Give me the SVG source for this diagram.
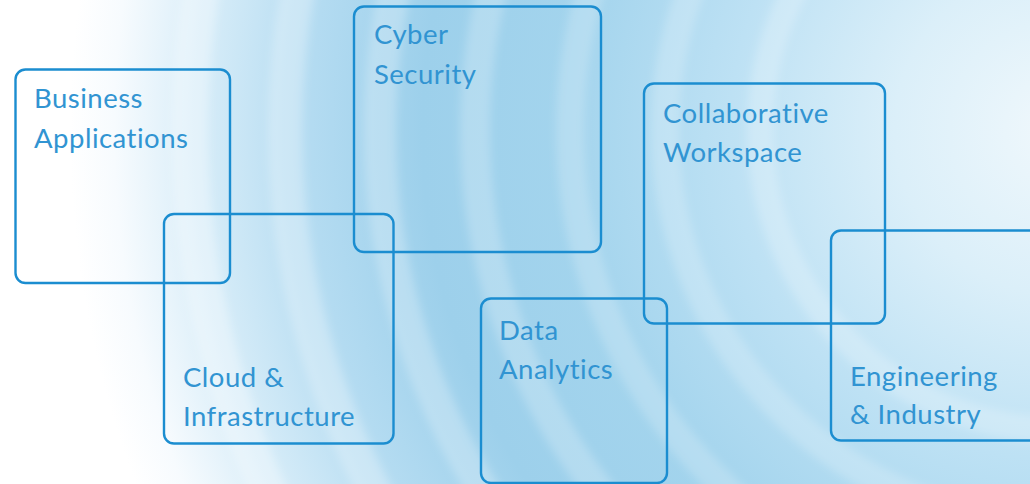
<svg xmlns="http://www.w3.org/2000/svg" width="1030" height="484" viewBox="0 0 1030 484">
  <defs>
    <radialGradient id="base" cx="1060" cy="130" r="1100" gradientUnits="userSpaceOnUse">
      <stop offset="0" stop-color="#f0f8fc"/>
      <stop offset="0.15" stop-color="#dbeff9"/>
      <stop offset="0.3" stop-color="#bde1f4"/>
      <stop offset="0.45" stop-color="#a3d4ed"/>
      <stop offset="0.58" stop-color="#9dd0eb"/>
      <stop offset="0.68" stop-color="#b3dbf1"/>
      <stop offset="0.78" stop-color="#d6ecf8"/>
      <stop offset="0.86" stop-color="#f7fbfe"/>
      <stop offset="0.9" stop-color="#ffffff"/>
      <stop offset="1" stop-color="#ffffff"/>
    </radialGradient>
    <filter id="soft" x="-20%" y="-20%" width="140%" height="140%">
      <feGaussianBlur stdDeviation="4.5"/>
    </filter>
    <style>
      .box { fill: none; stroke: #1b8dd0; stroke-width: 2.4; }
      .lbl { font-family: Lato, "Open Sans", "Liberation Sans", sans-serif; font-size: 27.5px; letter-spacing: 0.5px; fill: #3194d2; font-variant-ligatures: none; }
      .ring { fill: none; stroke: #ffffff; }
    </style>
  </defs>

  <g id="background">
    <rect x="0" y="0" width="1030" height="484" fill="url(#base)"/>
    <g filter="url(#soft)">
      <circle class="ring" cx="1060" cy="130" r="300" stroke-width="26" stroke-opacity="0.22"/>
      <circle class="ring" cx="1060" cy="130" r="395" stroke-width="28" stroke-opacity="0.2"/>
      <circle class="ring" cx="1060" cy="130" r="490" stroke-width="28" stroke-opacity="0.2"/>
      <circle class="ring" cx="1060" cy="130" r="585" stroke-width="30" stroke-opacity="0.22"/>
      <circle class="ring" cx="1060" cy="130" r="680" stroke-width="32" stroke-opacity="0.24"/>
      <circle class="ring" cx="1060" cy="130" r="775" stroke-width="34" stroke-opacity="0.26"/>
      <circle class="ring" cx="1060" cy="130" r="870" stroke-width="36" stroke-opacity="0.3"/>
    </g>
  </g>

  <g id="node-business-applications">
    <rect class="box" x="15.5" y="69.5" width="214.5" height="213.5" rx="10"/>
    <text class="lbl" x="34" y="108">Business</text>
    <text class="lbl" x="34" y="148">Applications</text>
  </g>
  <g id="node-cloud-infrastructure">
    <rect class="box" x="164" y="214" width="229.5" height="229.5" rx="10"/>
    <text class="lbl" x="183" y="387">Cloud &amp;</text>
    <text class="lbl" x="183" y="426">Infrastructure</text>
  </g>
  <g id="node-cyber-security">
    <rect class="box" x="354" y="6.5" width="247" height="245.5" rx="10"/>
    <text class="lbl" x="374" y="44">Cyber</text>
    <text class="lbl" x="374" y="84">Security</text>
  </g>
  <g id="node-collaborative-workspace">
    <rect class="box" x="644" y="83.5" width="241" height="240" rx="10"/>
    <text class="lbl" x="663" y="123">Collaborative</text>
    <text class="lbl" x="663" y="162">Workspace</text>
  </g>
  <g id="node-data-analytics">
    <rect class="box" x="481" y="298.5" width="186" height="184.5" rx="10"/>
    <text class="lbl" x="499" y="340">Data</text>
    <text class="lbl" x="499" y="379">Analytics</text>
  </g>
  <g id="node-engineering-industry">
    <rect class="box" x="831" y="230.5" width="230" height="210" rx="10"/>
    <text class="lbl" x="850" y="386">Engineering</text>
    <text class="lbl" x="850" y="424">&amp; Industry</text>
  </g>
  <g id="connectors"/>
</svg>
